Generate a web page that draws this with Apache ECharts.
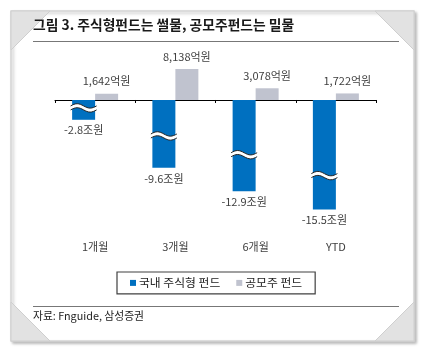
<!DOCTYPE html>
<html>
<head>
<meta charset="utf-8">
<script src="https://cdn.jsdelivr.net/npm/echarts@6/dist/echarts.min.js"></script>
<style>
  html, body { margin: 0; padding: 0; background: #fff; }
  #chart { width: 425px; height: 353px; }
</style>
</head>
<body>
<div id="chart"></div>
<script>
(function() {
  var categories = ['1개월', '3개월', '6개월', 'YTD'];
  var equityFund = [-2.8, -9.6, -12.9, -15.5];     // 조원
  var ipoFund = [1642, 8138, 3078, 1722];          // 억원
  var legendNames = ['국내 주식형 펀드', '공모주 펀드'];

  var font = '"Noto Sans CJK KR", "Noto Sans", sans-serif';
  var blue = '#0070c0';
  var gray = '#c0c3cf';
  var ink = '#404040';
  var barW = 23;
  // where the white break mark sits, as a share of each blue bar
  var breakFrac = [0.4, 0.53, 0.6, 0.69];

  function comma(n) {
    return String(n).replace(/\B(?=(\d{3})+(?!\d))/g, ',');
  }

  function wave(x0, x1, cy, amp) {
    var pts = [];
    for (var i = 0; i <= 16; i++) {
      var t = i / 16;
      pts.push([x0 + (x1 - x0) * t, cy - amp * Math.sin(2 * Math.PI * t)]);
    }
    return pts;
  }

  function renderBreak(params, api) {
    var idx = api.value(0);
    var v = api.value(1);
    var p = api.coord([idx, v * breakFrac[params.dataIndex]]);
    var x0 = p[0] - barW - 1.5, x1 = p[0] + 1.5;
    var top = wave(x0, x1, p[1] - 2, 2.2);
    var bot = wave(x0, x1, p[1] + 2, 2.2);
    var band = top.concat(bot.slice().reverse());
    return {
      type: 'group',
      children: [
        { type: 'polygon', shape: { points: band }, style: { fill: '#fff' } },
        { type: 'polyline', shape: { points: top }, style: { stroke: '#222', lineWidth: 1, fill: null } },
        { type: 'polyline', shape: { points: bot }, style: { stroke: '#222', lineWidth: 1, fill: null } }
      ]
    };
  }

  var chart = echarts.init(document.getElementById('chart'), null, { renderer: 'canvas' });
  chart.setOption({
    animation: false,
    textStyle: { fontFamily: font },
    graphic: [
      { type: 'rect', z: -10, shape: { x: 11, y: 11, width: 403, height: 330 },
        style: { fill: '#fff', stroke: '#d4d4d4', lineWidth: 1.5, shadowBlur: 3, shadowOffsetX: 2, shadowOffsetY: 2, shadowColor: 'rgba(0,0,0,0.25)' } },
      { type: 'polygon', z: -5, shape: { points: [[11, 11], [50, 11], [11, 50]] }, style: { fill: '#e2e2e2', stroke: '#cfcfcf', lineWidth: 1 } },
      { type: 'polygon', z: -5, shape: { points: [[375, 11], [414, 11], [414, 50]] }, style: { fill: '#e2e2e2', stroke: '#cfcfcf', lineWidth: 1 } },
      { type: 'polygon', z: -5, shape: { points: [[11, 302], [11, 341], [50, 341]] }, style: { fill: '#e2e2e2', stroke: '#cfcfcf', lineWidth: 1 } },
      { type: 'polygon', z: -5, shape: { points: [[414, 302], [414, 341], [375, 341]] }, style: { fill: '#e2e2e2', stroke: '#cfcfcf', lineWidth: 1 } },
      { type: 'text', left: 33, top: 18, style: { text: '그림 3. 주식형펀드는 썰물, 공모주펀드는 밀물', font: 'bold 13.8px ' + font, fill: '#1a1a1a' } },
      { type: 'line', shape: { x1: 33, y1: 41.5, x2: 399, y2: 41.5 }, style: { stroke: '#777', lineWidth: 1 } },
      { type: 'line', shape: { x1: 33, y1: 306.5, x2: 399, y2: 306.5 }, style: { stroke: '#777', lineWidth: 1 } },
      { type: 'text', left: 33, top: 311, style: { text: '자료: Fnguide, 삼성증권', font: '10.8px ' + font, fill: '#222' } }
    ],
    legend: {
      left: 117, top: 272,
      data: legendNames,
      icon: 'rect', itemWidth: 6, itemHeight: 6, itemGap: 16,
      padding: [5, 13], borderColor: '#404040', borderWidth: 1.2, borderRadius: 0,
      textStyle: { color: '#222', fontSize: 11.8, fontFamily: font, padding: [0, 0, 0, -2] }
    },
    grid: { left: 55, right: 49, top: 48, bottom: 117 },
    xAxis: [
      { type: 'category', data: categories, position: 'bottom',
        axisLine: { show: false, onZero: false }, axisTick: { show: false },
        axisLabel: { color: ink, fontSize: 11, margin: 5 } },
      { type: 'category', data: categories, position: 'top',
        axisLine: { show: true, onZero: true, lineStyle: { color: '#000', width: 1 } },
        axisTick: { show: true, inside: true, length: 3, lineStyle: { color: '#000' } },
        axisLabel: { show: false } }
    ],
    yAxis: [
      { type: 'value', min: -19.24, max: 7.355, show: false, splitLine: { show: false } },
      { type: 'value', min: -35700, max: 13650, show: false, splitLine: { show: false } }
    ],
    series: [
      { name: legendNames[0], type: 'bar', data: equityFund, yAxisIndex: 0, xAxisIndex: 0,
        barWidth: barW, barGap: '0%', itemStyle: { color: blue },
        label: { show: true, position: 'bottom', distance: 5, color: ink, fontSize: 11,
          formatter: function(p) { return p.value.toFixed(1) + '조원'; } } },
      { name: legendNames[1], type: 'bar', data: ipoFund, yAxisIndex: 1, xAxisIndex: 0,
        barWidth: barW, barGap: '0%', itemStyle: { color: gray },
        label: { show: true, position: 'top', distance: 7, color: ink, fontSize: 11,
          formatter: function(p) { return comma(p.value) + '억원'; } } },
      { type: 'custom', yAxisIndex: 0, xAxisIndex: 0, z: 5, silent: true,
        data: equityFund.map(function(v, i) { return [i, v]; }),
        encode: { x: 0, y: 1 },
        renderItem: renderBreak }
    ]
  });
  window.addEventListener('resize', function() { chart.resize(); });
})();
</script>
</body>
</html>
